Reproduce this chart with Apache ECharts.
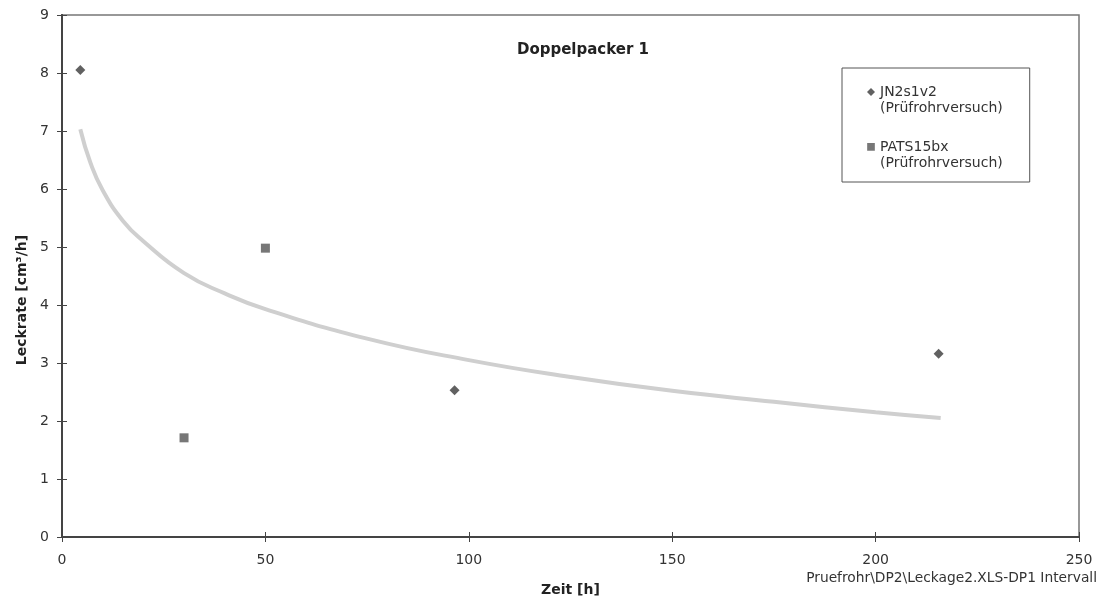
<!DOCTYPE html>
<html>
<head>
<meta charset="utf-8">
<script src="https://cdn.jsdelivr.net/npm/echarts@6/dist/echarts.min.js"></script>
<style>
html,body{margin:0;padding:0;background:#fff;}
#c{width:1100px;height:603px;}
</style>
</head>
<body>
<div id="c"></div>
<script>
// Data
var seriesNames = ['JN2s1v2\n(Prüfrohrversuch)', 'PATS15bx\n(Prüfrohrversuch)'];
var jnX = [4.5, 96.5, 215.5];
var jnY = [8.05, 2.53, 3.16];
var patsX = [30, 50];
var patsY = [1.71, 4.98];
// trend curve (light gray)
var trendX = [4.5, 7, 10, 15, 20, 30, 40, 50, 75, 100, 125, 150, 175, 200, 216];
var trendY = [7.03, 6.45, 5.98, 5.45, 5.10, 4.55, 4.20, 3.93, 3.42, 3.05, 2.76, 2.52, 2.33, 2.15, 2.05];
var xTicks = [0, 50, 100, 150, 200, 250];
var yTicks = [0, 1, 2, 3, 4, 5, 6, 7, 8, 9];

function pairs(xs, ys) { return xs.map(function (x, i) { return [x, ys[i]]; }); }

var FONT = 'DejaVu Sans';
// legend icons drawn at the top of a tall box so they sit on the first text line
var ICON_DIAMOND = 'path://M4,0 L8,4 L4,8 L0,4 Z M4,24 L4,24 Z';
var ICON_RECT = 'path://M0,0.5 L7.5,0.5 L7.5,8 L0,8 Z M4,24 L4,24 Z';

var chart = echarts.init(document.getElementById('c'), null, {renderer: 'canvas'});
var axisCommon = {
  type: 'value',
  splitLine: {show: false},
  axisLine: {show: true, onZero: false, lineStyle: {color: '#444', width: 2}},
  axisTick: {show: true, length: 5, lineStyle: {color: '#444', width: 1}}
};
var option = {
  backgroundColor: '#fff',
  animation: false,
  textStyle: {fontFamily: FONT},
  title: {
    text: 'Doppelpacker 1',
    left: 578, top: 38, textAlign: 'center',
    textStyle: {fontFamily: FONT, fontSize: 15, fontWeight: 'bold', color: '#222'}
  },
  grid: {left: 62, top: 15, right: 21, bottom: 66, show: true, borderColor: '#777', borderWidth: 1.5, backgroundColor: 'transparent'},
  legend: {
    orient: 'vertical',
    left: 842, top: 68,
    padding: [16, 27, 11, 25],
    borderColor: '#555', borderWidth: 1,
    itemWidth: 8, itemHeight: 24, itemGap: 23,
    data: [
      {name: seriesNames[0], icon: ICON_DIAMOND},
      {name: seriesNames[1], icon: ICON_RECT}
    ],
    textStyle: {fontFamily: FONT, fontSize: 14, color: '#333', lineHeight: 16}
  },
  xAxis: [
    Object.assign({}, axisCommon, {
      min: 0, max: 250, interval: 50, position: 'bottom',
      axisTick: {show: true, length: 5, inside: false, lineStyle: {color: '#444'}},
      axisLabel: {fontFamily: FONT, fontSize: 14, color: '#333', margin: 16,
        formatter: function (v) { return xTicks.indexOf(v) >= 0 ? String(v) : ''; }},
      name: 'Zeit [h]', nameLocation: 'middle', nameGap: 46,
      nameTextStyle: {fontFamily: FONT, fontSize: 14, fontWeight: 'bold', color: '#222'}
    }),
    Object.assign({}, axisCommon, {
      min: 0, max: 250, interval: 50, position: 'bottom', offset: 0,
      axisTick: {show: true, length: 5, inside: true, lineStyle: {color: '#444'}},
      axisLabel: {show: false}
    })
  ],
  yAxis: [
    Object.assign({}, axisCommon, {
      min: 0, max: 9, interval: 1, position: 'left',
      axisTick: {show: true, length: 5, inside: false, lineStyle: {color: '#444'}},
      axisLabel: {fontFamily: FONT, fontSize: 14, color: '#333', margin: 13,
        formatter: function (v) { return yTicks.indexOf(v) >= 0 ? String(v) : ''; }},
      name: 'Leckrate [cm³/h]', nameLocation: 'middle', nameGap: 33, nameRotate: 90,
      nameTextStyle: {fontFamily: FONT, fontSize: 14, fontWeight: 'bold', color: '#222', padding: [0, 48, 0, 0]}
    }),
    Object.assign({}, axisCommon, {
      min: 0, max: 9, interval: 1, position: 'left', offset: 0,
      axisTick: {show: true, length: 5, inside: true, lineStyle: {color: '#444'}},
      axisLabel: {show: false}
    })
  ],
  graphic: [{
    type: 'text', right: 3, top: 571,
    style: {text: 'Pruefrohr\\DP2\\Leckage2.XLS-DP1 Intervall', fontFamily: FONT, fontSize: 13.8, fill: '#333'}
  }],
  series: [
    {
      name: 'trend', type: 'line', data: pairs(trendX, trendY), smooth: true,
      showSymbol: false, symbol: 'none', legendHoverLink: false,
      lineStyle: {color: '#cfcfcf', width: 4}, z: 1
    },
    {
      name: seriesNames[0], type: 'scatter', data: pairs(jnX, jnY),
      symbol: 'diamond', symbolSize: 10,
      itemStyle: {color: '#3a3a3a'}, z: 3
    },
    {
      name: seriesNames[1], type: 'scatter', data: pairs(patsX, patsY),
      symbol: 'rect', symbolSize: 9,
      itemStyle: {color: '#555'}, z: 3
    }
  ]
};
chart.setOption(option);
</script>
</body>
</html>
